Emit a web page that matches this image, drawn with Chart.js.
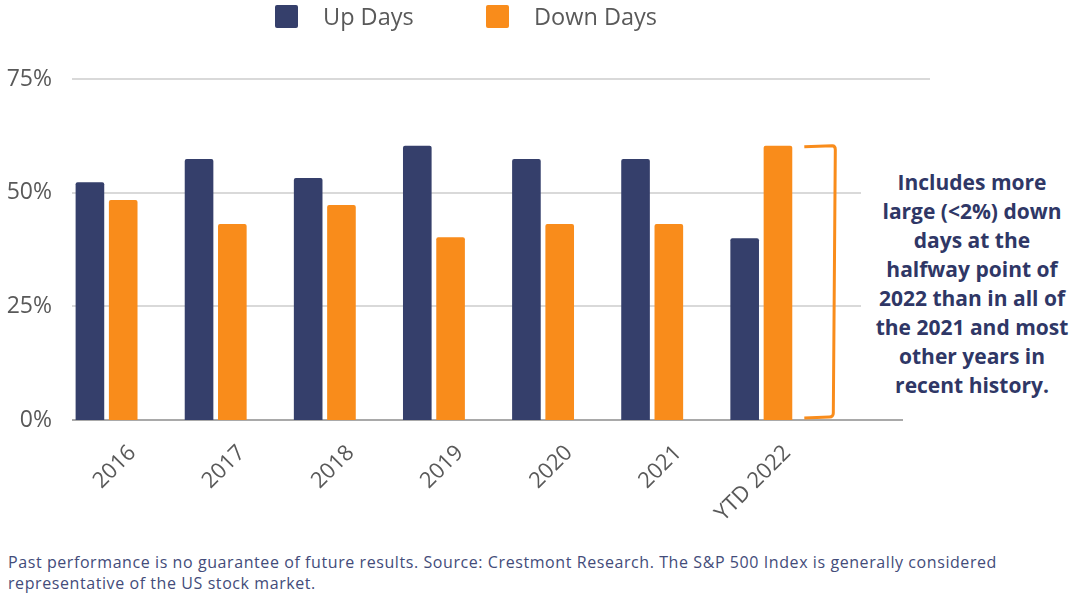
<!DOCTYPE html>
<html>
<head>
<meta charset="utf-8">
<script src="https://cdn.jsdelivr.net/npm/chart.js@4/dist/chart.umd.min.js"></script>
<style>
  body { margin: 0; background: #fff; width: 1080px; height: 594px; position: relative; overflow: hidden; font-family: "Open Sans", sans-serif; }
  #wrap { position: absolute; left: 0; top: 0; width: 935px; height: 540px; }
  .legend { position: absolute; top: 5px; height: 23px; font-size: 23.5px; color: #595959; }
  .legend i { position: absolute; left: 0; top: 0; width: 23px; height: 23px; border-radius: 2px; }
  .legend span { position: absolute; left: 48px; white-space: nowrap; top: -5px; line-height: 32px; }
  #note { position: absolute; left: 861px; top: 168px; width: 222px; background: #fff; text-align: center;
          font-weight: 700; font-size: 21px; line-height: 29px; color: #2f3766; }
  #foot { position: absolute; left: 8px; top: 552px; font-size: 16px; letter-spacing: 0.58px; line-height: 21px; color: #434c7a; white-space: nowrap; }
</style>
</head>
<body>
<div id="wrap"><canvas id="chart"></canvas></div>
<div class="legend" style="left:275px"><i style="background:#353f6b"></i><span>Up Days</span></div>
<div class="legend" style="left:486px"><i style="background:#f98c1b"></i><span>Down Days</span></div>
<div id="note">Includes more<br>large (&lt;2%) down<br>days at the<br>halfway point of<br>2022 than in all of<br>the 2021 and most<br>other years in<br>recent history.</div>
<div id="foot">Past performance is no guarantee of future results. Source: Crestmont Research. The S&amp;P 500 Index is generally considered<br>representative of the US stock market.</div>
<script>
const years = ['2016', '2017', '2018', '2019', '2020', '2021', 'YTD 2022'];
const upDays = [52.3, 57.4, 53.2, 60.3, 57.4, 57.4, 40.0];
const downDays = [48.4, 43.1, 47.3, 40.2, 43.1, 43.1, 60.3];
const yTicks = [0, 25, 50, 75];

const navy = '#353f6b';
const orange = '#f98c1b';

// horizontal grid lines, starting a bit right of the axis like the original
const gridLines = {
  id: 'gridLines',
  beforeDatasetsDraw(chart) {
    const { ctx, chartArea, scales } = chart;
    ctx.save();
    ctx.lineWidth = 2;
    yTicks.forEach(v => {
      const y = Math.round(scales.y.getPixelForValue(v));
      ctx.strokeStyle = v === 0 ? '#a9a9a9' : '#d9d9d9';
      ctx.beginPath();
      ctx.moveTo(chartArea.left + 20, y);
      ctx.lineTo(v === 0 ? chartArea.right - 22 : chartArea.right + 5, y);
      ctx.stroke();
    });
    ctx.restore();
  }
};

// orange bracket next to the YTD 2022 bars
const bracket = {
  id: 'bracket',
  afterDatasetsDraw(chart) {
    const { ctx, scales } = chart;
    const x0 = scales.x.getPixelForValue(6) + 43;
    const x1 = x0 + 31;
    const top = scales.y.getPixelForValue(downDays[6]);
    const bottom = scales.y.getPixelForValue(0) - 3;
    ctx.save();
    ctx.strokeStyle = orange;
    ctx.lineWidth = 3;
    ctx.lineJoin = 'round';
    ctx.beginPath();
    ctx.moveTo(x0, top + 1);
    ctx.lineTo(x1 - 3, top);
    ctx.quadraticCurveTo(x1, top, x1, top + 4);
    ctx.lineTo(x1 - 2, bottom - 4);
    ctx.quadraticCurveTo(x1 - 2, bottom, x1 - 6, bottom);
    ctx.lineTo(x0, bottom + 1);
    ctx.stroke();
    ctx.restore();
  }
};

new Chart(document.getElementById('chart'), {
  type: 'bar',
  data: {
    labels: [...years, ''],
    datasets: [
      { label: 'Up Days', data: upDays, backgroundColor: navy, borderRadius: 2, borderSkipped: 'bottom',
        categoryPercentage: 0.61, barPercentage: 0.86 },
      { label: 'Down Days', data: downDays, backgroundColor: orange, borderRadius: 2, borderSkipped: 'bottom',
        categoryPercentage: 0.61, barPercentage: 0.86 }
    ]
  },
  options: {
    responsive: true,
    maintainAspectRatio: false,
    animation: false,
    layout: { padding: { top: 79, left: 0, right: 10, bottom: 0 } },
    plugins: {
      legend: { display: false },
      tooltip: { enabled: false }
    },
    scales: {
      x: {
        grid: { display: false },
        border: { display: false },
        afterFit(scale) { scale.height = 120; },
        ticks: {
          maxRotation: 45, minRotation: 45, autoSkip: false,
          labelOffset: 26, padding: 12,
          color: '#595959',
          font: { family: 'Open Sans', size: 22 }
        }
      },
      y: {
        min: 0, max: 75,
        grid: { display: false, drawTicks: false },
        border: { display: false },
        afterFit(scale) { scale.width = 52; },
        ticks: {
          stepSize: 25, padding: 0,
          color: '#595959',
          font: { family: 'Open Sans', size: 23 },
          callback: v => v + '%'
        }
      }
    }
  },
  plugins: [gridLines, bracket]
});
</script>
</body>
</html>
